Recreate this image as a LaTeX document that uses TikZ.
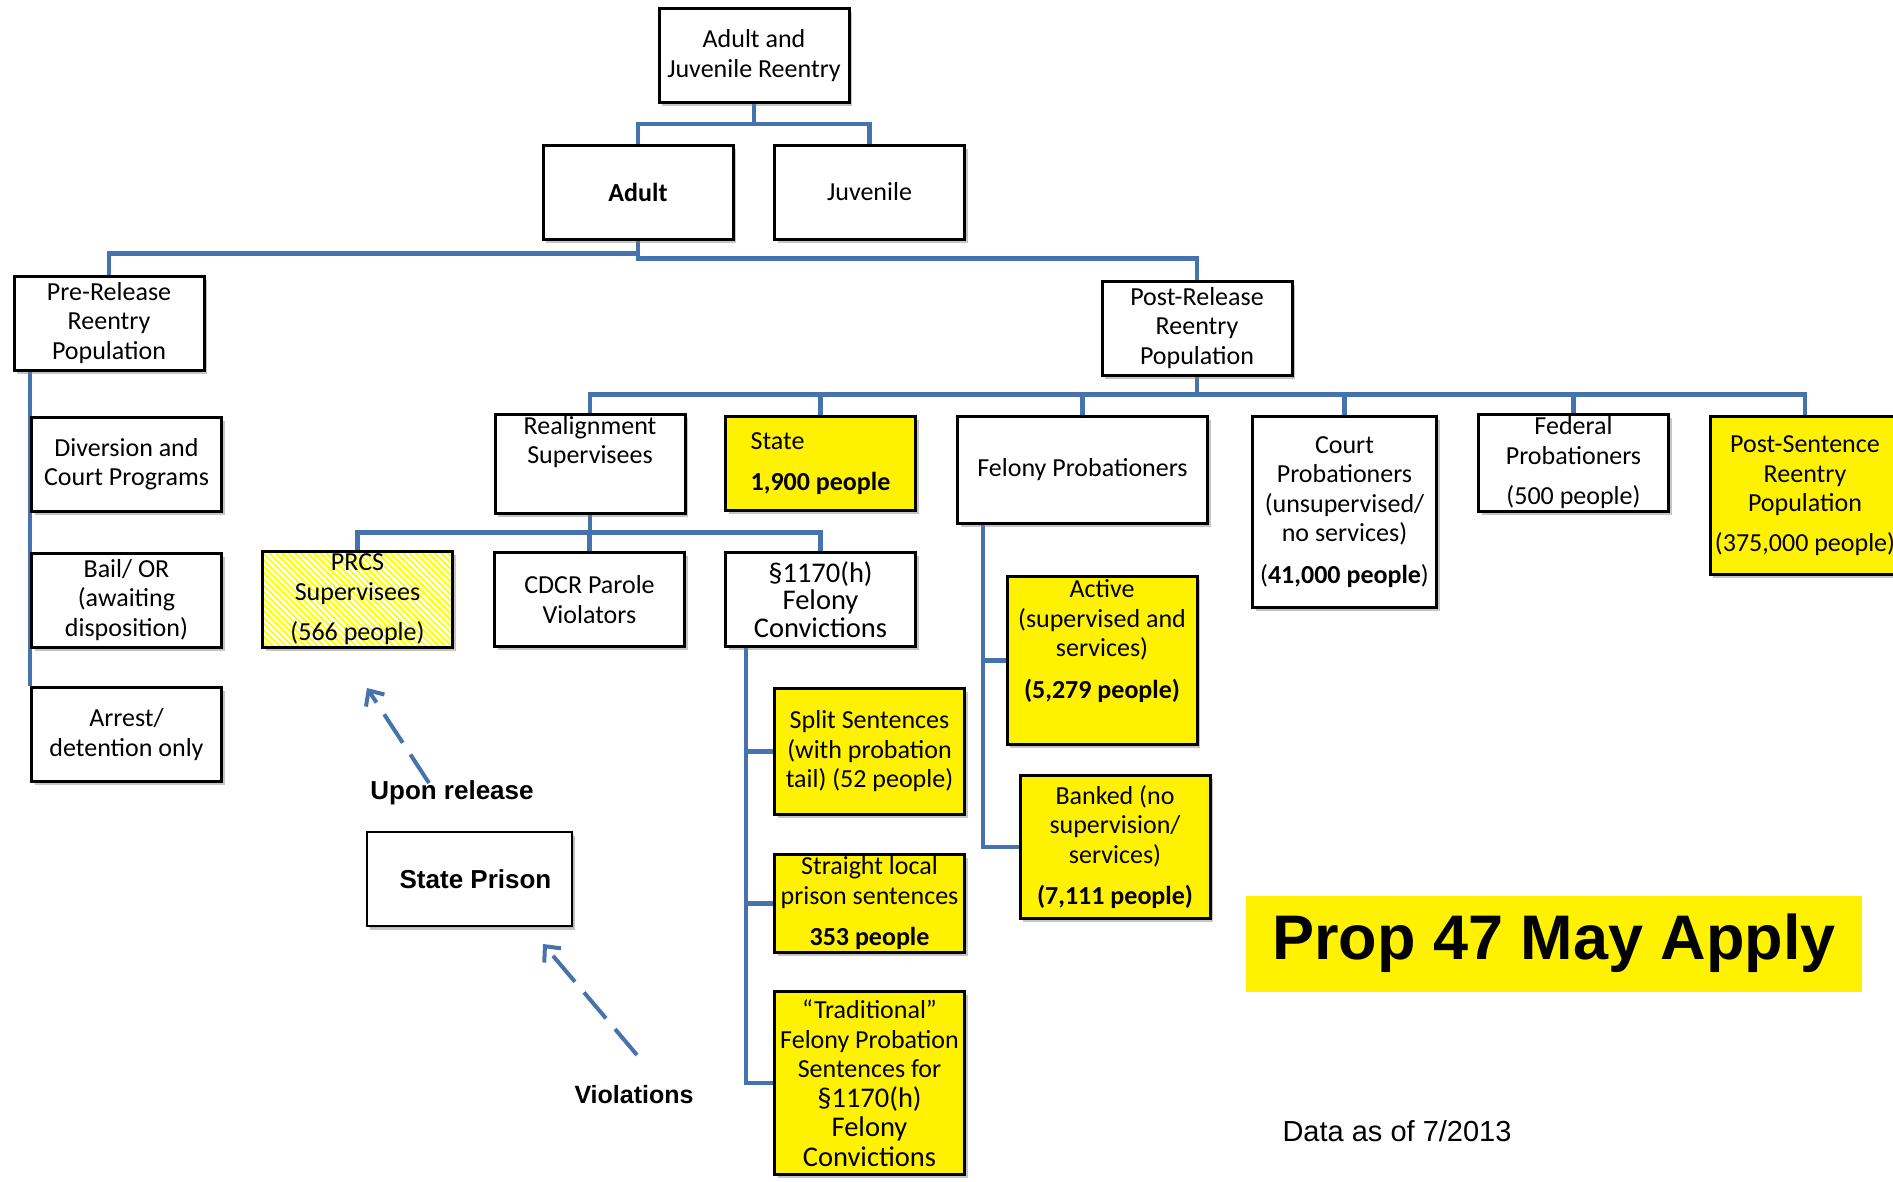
\documentclass[tikz,border=0pt]{standalone}
\usepackage{fontspec}
\setmainfont{Carlito}
\newfontfamily\arialfont{Liberation Sans}
\usetikzlibrary{shadows,patterns.meta,arrows.meta,backgrounds}
\definecolor{linkblue}{RGB}{70,114,174}
\newcommand\secfont{\fontsize{28.5}{27.5}\selectfont}

\begin{document}
\begin{tikzpicture}[x=1pt, y=-1pt,
  box/.style={draw=black, line width=3pt, fill=white, minimum width=190pt, minimum height=94pt,
    inner sep=2pt, align=center, font=\fontsize{26}{29.5}\selectfont,
    drop shadow={shadow xshift=3pt, shadow yshift=-3.5pt, opacity=0.45}},
  ybox/.style={box, fill=yellow},
  link/.style={draw=linkblue, line width=4.5pt},
  dasharrow/.style={draw=linkblue, line width=4pt, dash pattern=on 34pt off 14pt,
    -{Straight Barb[length=12pt, width=22pt, line width=4pt]}},
  note/.style={font=\arialfont\bfseries\fontsize{26}{30}\selectfont}]
\useasboundingbox (0,0) rectangle (1893,1181);

\node[box] (top) at (754,55.5) {Adult and\\Juvenile Reentry};
\node[box] (adult) at (638,192) {\textbf{Adult}};
\node[box] (juv) at (869.5,192) {Juvenile};
\node[box] (pre) at (109,323) {Pre-Release\\Reentry\\Population};
\node[box] (post) at (1197,328) {Post-Release\\Reentry\\Population};

\node[box] (diversion) at (126.5,464) {Diversion and\\Court Programs};
\node[box] (bail) at (126.5,600) {Bail/ OR\\(awaiting\\disposition)};
\node[box] (arrest) at (126.5,734.5) {Arrest/\\detention only};

\node[box] (realign) at (590,464) {Realignment\\Supervisees\\[10pt]\strut};
\node[ybox, align=left] (state) at (820.5,463.5) {State\\[11pt]\textbf{1,900 people}};
\node[box, minimum width=250pt, minimum height=107pt] (felprob) at (1082.5,470) {Felony Probationers};
\node[box, minimum width=184pt, minimum height=191pt] (court) at (1344.5,512)
  {Court\\Probationers\\(unsupervised/\\no services)\\[12pt](\textbf{41,000 people})};
\node[box] (federal) at (1573.5,463) {Federal\\Probationers\\[11pt](500 people)};
\node[ybox, minimum height=158pt] (postsent) at (1805,495.5)
  {Post-Sentence\\Reentry\\Population\\[10pt](375,000 people)};

\node[box, preaction={fill=white}, pattern={Lines[angle=-45, distance=4.5pt, line width=2pt]},
  pattern color=yellow] (prcs) at (357.5,599.5) {PRCS\\Supervisees\\[11pt](566 people)};
\node[box] (cdcr) at (589.5,599.5) {CDCR Parole\\Violators};
\node[box, font=\secfont] (sec1170) at (820.5,599.5) {§1170(h)\\Felony\\Convictions};

\node[ybox, minimum height=126pt] (split) at (869.5,751.5) {Split Sentences\\(with probation\\tail) (52 people)};
\node[ybox] (straight) at (869.5,903.5) {Straight local\\prison sentences\\[12pt]\textbf{353 people}};
\node[ybox, minimum height=183pt] (trad) at (869.5,1083)
  {“Traditional”\\Felony Probation\\Sentences for\\{\secfont §1170(h)}\\{\secfont Felony}\\{\secfont Convictions}};

\node[ybox, minimum height=168pt] (active) at (1102,660.5)
  {Active\\(supervised and\\services)\\[12pt]\textbf{(5,279 people)}\\[5pt]\strut};
\node[ybox, minimum height=143pt] (banked) at (1115,847)
  {Banked (no\\supervision/\\services)\\[12pt]\textbf{(7,111 people)}};

\node[box, line width=2pt, minimum width=205pt, minimum height=94pt, font=\arialfont\bfseries\fontsize{26}{30}\selectfont,
  drop shadow={shadow xshift=2pt, shadow yshift=-2pt, opacity=0.2}] (prison) at (469.5,879) {\hspace*{12pt}State Prison};
\node[fill=yellow, minimum width=616pt, minimum height=96pt, inner sep=0pt,
  font=\arialfont\bfseries\fontsize{63}{70}\selectfont] (prop) at (1554,943.5) {Prop 47 May Apply};
\node[font=\arialfont\fontsize{29}{33}\selectfont] (data) at (1397,1131) {Data as of 7/2013};
\node[note] (upon) at (452,793) {Upon release};
\node[note, font=\arialfont\bfseries\fontsize{25}{30}\selectfont] (viol) at (634,1095) {Violations};

\coordinate (uptail) at (429,783);
\coordinate (uptip) at (367,688);
\coordinate (violtail) at (637,1055);
\coordinate (violtip) at (543,944);
\coordinate (sectrunk) at ([xshift=22pt]sec1170.south west);
\coordinate (feltrunk) at ([xshift=27pt]felprob.south west);

\begin{scope}[on background layer]
\fill[white] (0,0) rectangle (1893,1181);
\draw[link] (top.south) -- ++(0,20) -| (adult.north);
\draw[link] (top.south) -- ++(0,20) -| (juv.north);
\draw[link] (adult.south) -- ++(0,13) -| (pre.north);
\draw[link] (adult.south) -- ++(0,18) -| (post.north);
\foreach \n in {realign,state,felprob,court,federal,postsent}
  \draw[link] (post.south) -- ++(0,18) -| (\n.north);
\draw[link] (arrest.north west |- pre.south) -- (arrest.north west);
\foreach \n in {prcs,cdcr,sec1170}
  \draw[link] (realign.south) -- ++(0,17) -| (\n.north);
\foreach \n in {split,straight,trad}
  \draw[link] (sectrunk) |- (\n.west);
\foreach \n in {active,banked}
  \draw[link] (feltrunk) |- (\n.west);
\end{scope}

\draw[dasharrow] (uptail) -- (uptip);
\draw[dasharrow] (violtail) -- (violtip);
\end{tikzpicture}
\end{document}
